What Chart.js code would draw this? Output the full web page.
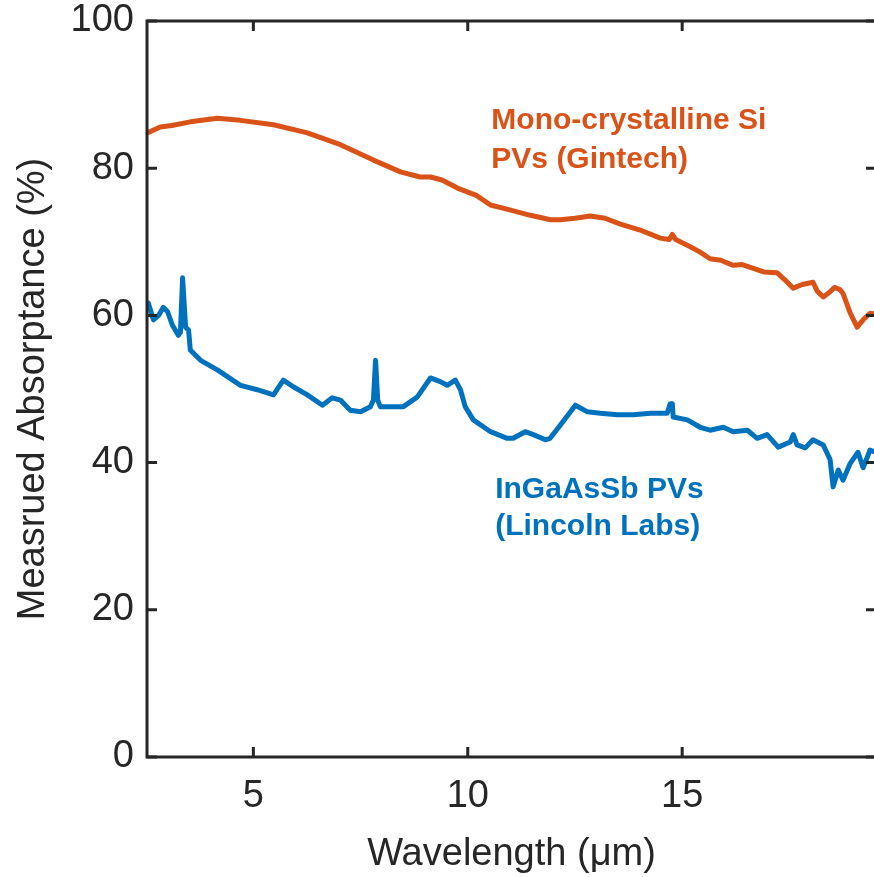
<!DOCTYPE html>
<html>
<head>
<meta charset="utf-8">
<script src="https://cdn.jsdelivr.net/npm/chart.js@4.4.1/dist/chart.umd.min.js"></script>
<style>
  html, body { margin: 0; padding: 0; background: #fff; overflow: hidden; }
  #wrap { width: 880px; height: 877px; }
</style>
</head>
<body>
<div id="wrap"><canvas id="chart" width="880" height="877"></canvas></div>
<script>
// Mono-crystalline Si (Gintech)
const siWavelength = [2.53, 2.83, 3.1, 3.53, 4.16, 4.7, 5.47, 6.26, 7.03, 7.8, 8.43, 8.89, 9.13, 9.4, 9.76,
  10.2, 10.53, 11.0, 11.46, 11.93, 12.16, 12.5, 12.86, 13.2, 13.56, 14.02, 14.49, 14.7, 14.77, 14.85,
  15.2, 15.42, 15.65, 15.9, 16.19, 16.4, 16.66, 16.9, 17.21, 17.4, 17.59, 17.8, 18.05, 18.15, 18.29,
  18.45, 18.55, 18.68, 18.75, 18.92, 19.08, 19.22, 19.38, 19.52];
const siAbsorptance = [84.8, 85.6, 85.8, 86.3, 86.8, 86.5, 85.9, 84.8, 83.2, 81.1, 79.5, 78.8, 78.8, 78.4, 77.3,
  76.3, 75.0, 74.3, 73.6, 73.0, 73.0, 73.2, 73.5, 73.2, 72.4, 71.6, 70.5, 70.3, 71.0, 70.3,
  69.3, 68.6, 67.7, 67.5, 66.8, 66.9, 66.4, 65.9, 65.8, 64.8, 63.7, 64.2, 64.5, 63.3, 62.5,
  63.2, 63.8, 63.5, 63.0, 60.3, 58.4, 59.4, 60.3, 60.2];

// InGaAsSb (Lincoln Labs)
const ingaWavelength = [2.53, 2.55, 2.67, 2.79, 2.9, 3.0, 3.11, 3.25, 3.3, 3.35, 3.42, 3.49, 3.53, 3.77, 4.16,
  4.7, 5.09, 5.47, 5.7, 5.93, 6.26, 6.61, 6.84, 7.03, 7.26, 7.5, 7.73, 7.8, 7.85, 7.9, 7.96,
  8.5, 8.82, 9.13, 9.36, 9.52, 9.71, 9.83, 9.94, 10.13, 10.53, 10.92, 11.06, 11.34, 11.53, 11.81,
  11.92, 12.16, 12.51, 12.79, 13.09, 13.49, 13.86, 14.26, 14.65, 14.72, 14.77, 14.79, 15.12, 15.42,
  15.65, 15.96, 16.19, 16.52, 16.75, 16.98, 17.24, 17.52, 17.59, 17.68, 17.87, 18.05, 18.29, 18.45,
  18.52, 18.64, 18.75, 18.92, 19.1, 19.22, 19.38, 19.52];
const ingaAbsorptance = [61.1, 61.7, 59.4, 60.0, 61.1, 60.5, 58.7, 57.3, 57.7, 65.1, 58.4, 58.0, 55.3, 53.9, 52.6,
  50.5, 49.9, 49.2, 51.2, 50.3, 49.2, 47.8, 48.8, 48.5, 47.1, 46.9, 47.6, 48.5, 53.9, 48.5, 47.6,
  47.6, 48.9, 51.5, 51.0, 50.5, 51.2, 49.9, 47.6, 45.8, 44.2, 43.3, 43.3, 44.2, 43.8, 43.1,
  43.3, 45.1, 47.8, 46.9, 46.7, 46.5, 46.5, 46.7, 46.7, 48.0, 48.0, 46.2, 45.8, 44.8,
  44.4, 44.8, 44.2, 44.4, 43.3, 43.8, 42.1, 42.8, 43.8, 42.4, 42.0, 43.1, 42.4, 40.4,
  36.7, 39.0, 37.6, 39.9, 41.4, 39.3, 41.7, 41.4];

const xTicks = [5, 10, 15];
const yTicks = [0, 20, 40, 60, 80, 100];

// text labels in data coordinates
const labels = [
  { text: 'Mono-crystalline Si', x: 10.55, y: 86.5, color: '#D95319' },
  { text: 'PVs (Gintech)', x: 10.55, y: 81.1, color: '#D95319' },
  { text: 'InGaAsSb PVs', x: 10.64, y: 36.3, color: '#0072BD' },
  { text: '(Lincoln Labs)', x: 10.64, y: 31.3, color: '#0072BD' }
];

const axisColor = '#262626';
const fontFamily = '"Liberation Sans", Arial, Helvetica, sans-serif';

const boxPlugin = {
  id: 'box',
  afterDatasetsDraw(chart) {
    const { ctx, chartArea: a, scales: { x, y } } = chart;
    ctx.save();
    ctx.strokeStyle = axisColor;
    ctx.lineWidth = 3;
    ctx.strokeRect(a.left, a.top, a.right - a.left, a.bottom - a.top);
    const len = 10;
    ctx.beginPath();
    xTicks.forEach(v => {
      const px = x.getPixelForValue(v);
      ctx.moveTo(px, a.bottom); ctx.lineTo(px, a.bottom - len);
      ctx.moveTo(px, a.top); ctx.lineTo(px, a.top + len);
    });
    yTicks.forEach(v => {
      const py = y.getPixelForValue(v);
      ctx.moveTo(a.left, py); ctx.lineTo(a.left + len, py);
      ctx.moveTo(a.right, py); ctx.lineTo(a.right - len, py);
    });
    ctx.stroke();

    ctx.font = 'bold 30px ' + fontFamily;
    ctx.textAlign = 'left';
    ctx.textBaseline = 'middle';
    labels.forEach(l => {
      ctx.fillStyle = l.color;
      ctx.fillText(l.text, x.getPixelForValue(l.x), y.getPixelForValue(l.y));
    });
    ctx.restore();
  }
};

new Chart(document.getElementById('chart'), {
  type: 'line',
  data: {
    datasets: [{
      label: 'Mono-crystalline Si PVs (Gintech)',
      data: siWavelength.map((w, i) => ({ x: w, y: siAbsorptance[i] })),
      borderColor: '#D95319',
      borderWidth: 5,
      borderJoinStyle: 'round',
      pointRadius: 0,
      tension: 0
    },
    {
      label: 'InGaAsSb PVs (Lincoln Labs)',
      data: ingaWavelength.map((w, i) => ({ x: w, y: ingaAbsorptance[i] })),
      borderColor: '#0072BD',
      borderWidth: 5,
      borderJoinStyle: 'round',
      pointRadius: 0,
      tension: 0
    }]
  },
  options: {
    responsive: false,
    animation: false,
    layout: { padding: { top: 21, right: 4, left: 0, bottom: 0 } },
    plugins: {
      legend: { display: false },
      tooltip: { enabled: false }
    },
    scales: {
      x: {
        type: 'linear',
        min: 2.52,
        max: 19.52,
        afterBuildTicks: scale => { scale.ticks = xTicks.map(v => ({ value: v })); },
        afterFit: scale => { scale.height = 120; },
        grid: { display: false },
        border: { display: false },
        ticks: {
          color: axisColor,
          padding: 20,
          font: { family: fontFamily, size: 38, lineHeight: 0.6 }
        },
        title: {
          display: true,
          text: 'Wavelength (μm)',
          color: axisColor,
          padding: { top: 0, bottom: 0 },
          font: { family: fontFamily, size: 38 }
        }
      },
      y: {
        min: 0,
        max: 100,
        afterBuildTicks: scale => { scale.ticks = yTicks.map(v => ({ value: v })); },
        afterFit: scale => { scale.width = 147; },
        grid: { display: false },
        border: { display: false },
        ticks: {
          color: axisColor,
          padding: 5,
          font: { family: fontFamily, size: 38, lineHeight: 0.6 }
        },
        title: {
          display: true,
          text: 'Measrued Absorptance (%)',
          color: axisColor,
          padding: { top: 11, bottom: 0 },
          font: { family: fontFamily, size: 38 }
        }
      }
    }
  },
  plugins: [boxPlugin]
});
</script>
</body>
</html>
